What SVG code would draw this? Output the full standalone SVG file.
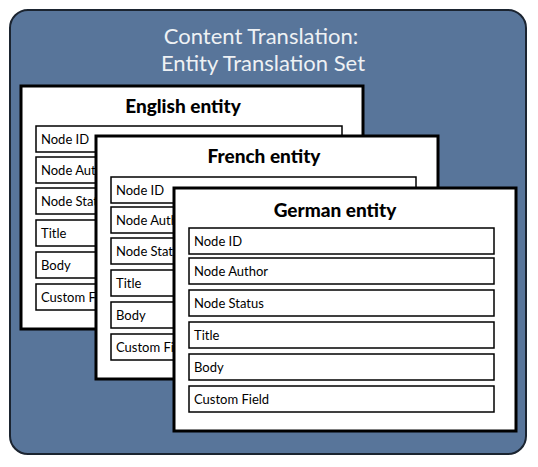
<svg xmlns="http://www.w3.org/2000/svg" width="538" height="467" viewBox="0 0 538 467">
<style>
.title{font-family:Lato,"Open Sans","DejaVu Sans",sans-serif;font-size:22px;fill:#eef1f4;text-anchor:middle}
.box{fill:#fff;stroke:#000;stroke-width:3}
.fld{fill:#fff;stroke:#000;stroke-width:1.5}
.hdr{font-family:Lato,"Open Sans","DejaVu Sans",sans-serif;font-size:19px;font-weight:900;fill:#000;text-anchor:middle}
.ft{font-family:Lato,"Open Sans","DejaVu Sans",sans-serif;font-size:13px;fill:#000}
</style>
<rect width="538" height="467" fill="#fff"/>
<rect x="10" y="10" width="516" height="444" rx="18" fill="#58759a" stroke="#1b2430" stroke-width="2"/>
<text class="title" x="261" y="44">Content Translation:</text>
<text class="title" x="263" y="71">Entity Translation Set</text>
<g id="english">
<rect class="box" x="21" y="86" width="342" height="243"/>
<text class="hdr" x="183" y="113">English entity</text>
<rect class="fld" x="36" y="126" width="306" height="26"/><text class="ft" x="41" y="144">Node ID</text>
<rect class="fld" x="36" y="157" width="306" height="26"/><text class="ft" x="41" y="175">Node Author</text>
<rect class="fld" x="36" y="188" width="306" height="26"/><text class="ft" x="41" y="206">Node Status</text>
<rect class="fld" x="36" y="220" width="306" height="26"/><text class="ft" x="41" y="238">Title</text>
<rect class="fld" x="36" y="252" width="306" height="26"/><text class="ft" x="41" y="270">Body</text>
<rect class="fld" x="36" y="284" width="306" height="26"/><text class="ft" x="41" y="302">Custom Field</text>
</g>
<g id="french">
<rect class="box" x="96" y="136" width="342" height="243"/>
<text class="hdr" x="264" y="163">French entity</text>
<rect class="fld" x="111" y="177" width="305" height="26"/><text class="ft" x="116" y="195">Node ID</text>
<rect class="fld" x="111" y="207" width="305" height="26"/><text class="ft" x="116" y="225">Node Author</text>
<rect class="fld" x="111" y="238" width="305" height="26"/><text class="ft" x="116" y="256">Node Status</text>
<rect class="fld" x="111" y="270" width="305" height="26"/><text class="ft" x="116" y="288">Title</text>
<rect class="fld" x="111" y="302" width="305" height="26"/><text class="ft" x="116" y="320">Body</text>
<rect class="fld" x="111" y="334" width="305" height="26"/><text class="ft" x="116" y="352">Custom Field</text>
</g>
<g id="german">
<rect class="box" x="174" y="188" width="342" height="243"/>
<text class="hdr" x="335" y="217">German entity</text>
<rect class="fld" x="189" y="228" width="305" height="26"/><text class="ft" x="194" y="246">Node ID</text>
<rect class="fld" x="189" y="258" width="305" height="26"/><text class="ft" x="194" y="276">Node Author</text>
<rect class="fld" x="189" y="290" width="305" height="26"/><text class="ft" x="194" y="308">Node Status</text>
<rect class="fld" x="189" y="322" width="305" height="26"/><text class="ft" x="194" y="340">Title</text>
<rect class="fld" x="189" y="354" width="305" height="26"/><text class="ft" x="194" y="372">Body</text>
<rect class="fld" x="189" y="386" width="305" height="26"/><text class="ft" x="194" y="404">Custom Field</text>
</g>
<g id="connectors"/>
</svg>
